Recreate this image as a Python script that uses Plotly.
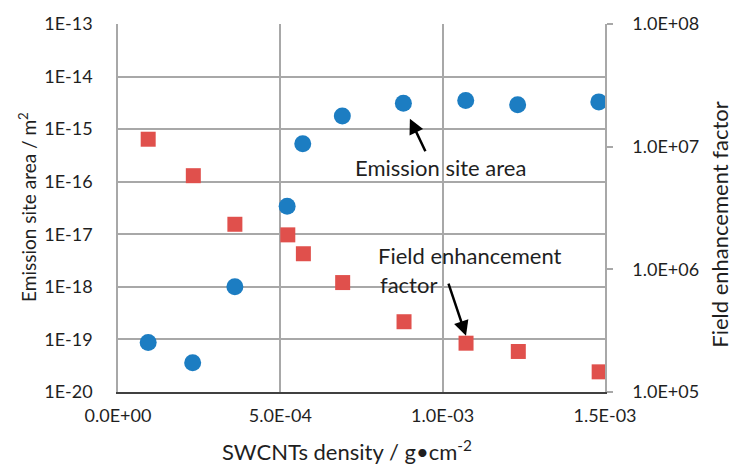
import plotly.graph_objects as go

# Data
density_blue = [9.3e-5, 2.30e-4, 3.60e-4, 5.21e-4, 5.69e-4, 6.91e-4, 8.79e-4, 1.071e-3, 1.231e-3, 1.481e-3]
emission_area = [8.7e-20, 3.6e-20, 1.0e-18, 3.4e-17, 5.3e-16, 1.77e-15, 3.1e-15, 3.5e-15, 2.9e-15, 3.3e-15]

density_red = [9.3e-5, 2.32e-4, 3.60e-4, 5.23e-4, 5.71e-4, 6.92e-4, 8.81e-4, 1.072e-3, 1.233e-3, 1.482e-3]
field_factor = [1.15e7, 5.8e6, 2.33e6, 1.91e6, 1.34e6, 7.8e5, 3.74e5, 2.5e5, 2.14e5, 1.46e5]

x_ticks = [0, 5e-4, 1e-3, 1.5e-3]
x_ticktext = ["0.0E+00", "5.0E-04", "1.0E-03", "1.5E-03"]
y1_ticks = [1e-20, 1e-19, 1e-18, 1e-17, 1e-16, 1e-15, 1e-14, 1e-13]
y1_ticktext = ["1E-20", "1E-19", "1E-18", "1E-17", "1E-16", "1E-15", "1E-14", "1E-13"]
y2_ticks = [1e5, 1e6, 1e7, 1e8]
y2_ticktext = ["1.0E+05", "1.0E+06", "1.0E+07", "1.0E+08"]

FONT = "Lato"
TXT = "#1f1f1f"
GRID = "#a8a8a8"

fig = go.Figure()
fig.add_trace(go.Scatter(x=density_blue, y=emission_area, mode="markers",
                         marker=dict(symbol="circle", size=17, color="#1c7dc2"),
                         name="Emission site area", yaxis="y"))
fig.add_trace(go.Scatter(x=density_red, y=field_factor, mode="markers",
                         marker=dict(symbol="square", size=15, color="#e0504c"),
                         name="Field enhancement factor", yaxis="y2"))

fig.update_layout(
    width=733, height=468,
    margin=dict(l=118, r=128, t=18, b=76),
    paper_bgcolor="white", plot_bgcolor="white",
    showlegend=False,
    font=dict(family=FONT, size=18, color=TXT),
    xaxis=dict(range=[0, 1.5e-3], tickvals=x_ticks, ticktext=x_ticktext,
               showgrid=True, gridcolor=GRID, gridwidth=1.5,
               showline=True, linecolor="#404040", linewidth=2,
               ticks="", ticklabelstandoff=6, zeroline=False,
               tickfont=dict(size=18)),
    yaxis=dict(type="log", range=[-20, -13], tickvals=y1_ticks, ticktext=y1_ticktext,
               showgrid=True, gridcolor=GRID, gridwidth=1.5,
               showline=True, linecolor=GRID, linewidth=1.5,
               ticks="", ticklabelstandoff=20, zeroline=False,
               tickfont=dict(size=18)),
    yaxis2=dict(type="log", range=[5, 8], tickvals=y2_ticks, ticktext=y2_ticktext,
                overlaying="y", side="right", showgrid=False,
                showline=True, linecolor=GRID, linewidth=1.5,
                ticks="outside", ticklen=6, tickcolor=GRID, tickwidth=1.5,
                ticklabelstandoff=16, zeroline=False,
                tickfont=dict(size=18)),
)

annotations = [
    # axis titles
    dict(text="Emission site area / m<sup>2</sup>", xref="paper", yref="paper",
         x=-0.1848, y=0.503, textangle=-90, showarrow=False,
         xanchor="center", yanchor="middle", font=dict(size=19)),
    dict(text="SWCNTs density / g•cm<sup>-2</sup>", xref="paper", yref="paper",
         x=0.470, y=-0.158, showarrow=False, xanchor="center", yanchor="middle",
         font=dict(size=22)),
    dict(text="Field enhancement factor", xref="paper", yref="paper",
         x=1.236, y=0.457, textangle=-90, showarrow=False,
         xanchor="center", yanchor="middle", font=dict(size=22)),
    # in-plot labels
    dict(text="Emission site area", xref="x", yref="y", x=9.92e-4, y=-15.73,
         showarrow=False, xanchor="center", yanchor="middle", font=dict(size=22)),
    dict(text="Field enhancement", xref="x", yref="y", x=1.084e-3, y=-17.40,
         showarrow=False, xanchor="center", yanchor="middle", font=dict(size=22)),
    dict(text="factor", xref="x", yref="y", x=8.96e-4, y=-17.96,
         showarrow=False, xanchor="center", yanchor="middle", font=dict(size=22)),
    # arrows
    dict(text="", xref="x", yref="y", axref="x", ayref="y",
         x=8.99e-4, y=-14.80, ax=9.49e-4, ay=-15.45,
         showarrow=True, arrowhead=2, arrowsize=1.2, arrowwidth=2.5, arrowcolor="black"),
    dict(text="", xref="x", yref="y", axref="x", ayref="y",
         x=1.0719e-3, y=-18.93, ax=1.0164e-3, ay=-17.91,
         showarrow=True, arrowhead=2, arrowsize=1.2, arrowwidth=2.5, arrowcolor="black"),
]
fig.update_layout(annotations=annotations)

fig.write_html("out.html")
